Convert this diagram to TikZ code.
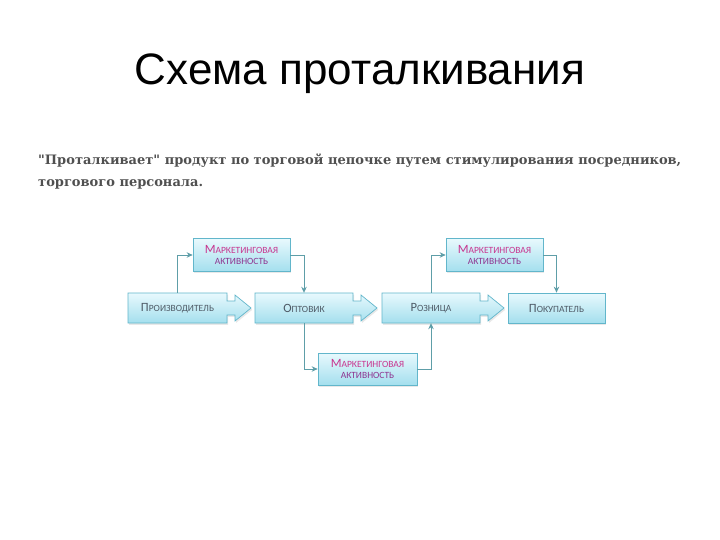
\documentclass[tikz,border=0pt]{standalone}
\usepackage{fontspec}
\usetikzlibrary{arrows.meta,shadows}
\newfontfamily\titlefont{Liberation Sans}
\newfontfamily\subfont{DejaVu Serif}
\newfontfamily\boxfont{Carlito}
\definecolor{boxtop}{HTML}{E8F9FD}
\definecolor{boxbot}{HTML}{A4DFEE}
\definecolor{boxline}{HTML}{62B6CB}
\definecolor{connc}{HTML}{5E9EA8}
\definecolor{boxtext}{HTML}{4E5A66}
\definecolor{mkA}{HTML}{C8358F}
\definecolor{mkB}{HTML}{8E3490}
\definecolor{subc}{HTML}{505050}
\newcommand\fakesc[2]{{\fontsize{12.6}{13}\selectfont #1}{\fontsize{9.5}{13}\selectfont #2}}
\newcommand\arrowshape[3]{% x0, y0, w
  \path[boxshape] (#1,#2) -- ({#1+#3},#2) -- ({#1+#3},{#2+8}) -- ({#1+#3+8},{#2+8}) -- ({#1+#3+8},{#2+2})
   -- ({#1+#3+24},{#2+15}) -- ({#1+#3+8},{#2+28}) -- ({#1+#3+8},{#2+22}) -- ({#1+#3},{#2+22})
   -- ({#1+#3},{#2+30}) -- (#1,{#2+30}) -- cycle;}
\tikzset{
  boxshape/.style={draw=boxline, line width=0.7pt, top color=boxtop, bottom color=boxbot,
     drop shadow={opacity=0.18, shadow xshift=1.2pt, shadow yshift=-1.8pt}},
  mainlabel/.style={inner sep=0pt, minimum width=98pt, minimum height=30pt, font=\boxfont, text=boxtext},
  mkbox/.style={boxshape, minimum width=97pt, minimum height=33pt, inner sep=0pt, align=center,
     font=\boxfont, text=mkA},
  conn/.style={draw=connc, line width=0.9pt, -{Stealth[length=6pt,width=5.5pt]}}
}
\begin{document}
\begin{tikzpicture}[x=1pt,y=-1pt]
\useasboundingbox[fill=white] (0,0) rectangle (720,540);
\node[anchor=base, font=\titlefont\fontsize{44}{50}\selectfont] (title) at (360,85) {Схема проталкивания};
\node[anchor=north west, inner sep=0pt, align=left, text=subc,
      font=\subfont\bfseries\fontsize{13}{22}\selectfont] (sub) at (38,154)
  {"Проталкивает" продукт по торговой цепочке путем стимулирования посредников,\\торгового персонала.};
% main boxes
\arrowshape{128}{293}{99}
\node[mainlabel, minimum width=99pt] (P) at (177.5,308) {\fakesc{П}{РОИЗВОДИТЕЛЬ}};
\arrowshape{255}{293}{98}
\node[mainlabel] (O) at (304,308) {\fakesc{О}{ПТОВИК}};
\arrowshape{382}{293}{98}
\node[mainlabel] (R) at (431,308) {\fakesc{Р}{ОЗНИЦА}};
\node[boxshape, mainlabel, minimum width=97pt] (K) at (556.5,308) {\fakesc{П}{ОКУПАТЕЛЬ}};
% marketing boxes
\node[mkbox] (M1) at (241.5,255) {\fakesc{М}{АРКЕТИНГОВАЯ}\\[-1.5pt]\textcolor{mkB}{\fontsize{9.5}{13}\selectfont АКТИВНОСТЬ}};
\node[mkbox] (M2) at (494.5,255) {\fakesc{М}{АРКЕТИНГОВАЯ}\\[-1.5pt]\textcolor{mkB}{\fontsize{9.5}{13}\selectfont АКТИВНОСТЬ}};
\node[mkbox, minimum width=99pt, minimum height=32pt] (M3) at (367.5,369) {\fakesc{М}{АРКЕТИНГОВАЯ}\\[-1.5pt]\textcolor{mkB}{\fontsize{9.5}{13}\selectfont АКТИВНОСТЬ}};
% connectors
\draw[conn] (P.north) |- (M1.west);
\draw[conn] (M1.east) -| (O.north);
\draw[conn] (O.south) |- (M3.west);
\draw[conn] (M3.east) -| (R.south);
\draw[conn] (R.north) |- (M2.west);
\draw[conn] (M2.east) -| (K.north);
\end{tikzpicture}
\end{document}
